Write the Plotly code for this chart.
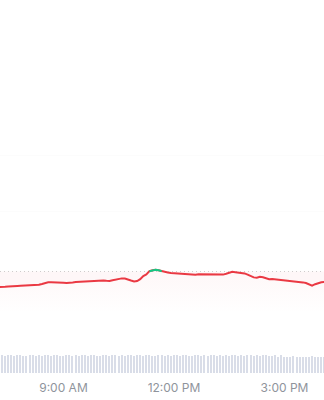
import plotly.graph_objects as go
import pandas as pd

# ---- data ----
start_time = "2024-03-15 07:15"
interval_min = 5
prev_close = 50.00

price = [
    49.446, 49.439, 49.454, 49.464, 49.461, 49.475, 49.482, 49.489, 49.493, 49.500,
    49.496, 49.507, 49.504, 49.525, 49.554, 49.589, 49.618, 49.614, 49.604, 49.611,
    49.607, 49.596, 49.593, 49.589, 49.611, 49.625, 49.632, 49.639, 49.646, 49.643,
    49.654, 49.661, 49.675, 49.682, 49.679, 49.668, 49.664, 49.689, 49.711, 49.732,
    49.754, 49.750, 49.725, 49.679, 49.646, 49.661, 49.725, 49.839, 49.893, 50.011,
    50.046, 50.061, 50.043, 50.011, 49.986, 49.964, 49.946, 49.939, 49.929, 49.918,
    49.904, 49.889, 49.882, 49.893, 49.886, 49.900, 49.896, 49.911, 49.904, 49.889,
    49.893, 49.882, 49.875, 49.889, 49.918, 49.961, 49.989, 49.975, 49.961, 49.954,
    49.932, 49.889, 49.839, 49.789, 49.775, 49.811, 49.796, 49.746, 49.725, 49.732,
    49.721, 49.714, 49.704, 49.696, 49.689, 49.675, 49.661, 49.643, 49.625, 49.611,
    49.589, 49.554, 49.496, 49.546, 49.589, 49.618, 49.621,
]

volume = [
    98, 100, 97, 99, 100, 96, 99, 100, 98, 97,
    100, 99, 98, 100, 97, 99, 100, 98, 99, 100,
    97, 98, 100, 99, 96, 100, 98, 99, 100, 97,
    99, 100, 98, 97, 100, 99, 98, 100, 99, 97,
    100, 98, 99, 100, 97, 99, 100, 98, 99, 100,
    98, 97, 100, 99, 98, 100, 97, 99, 100, 98,
    99, 100, 97, 98, 100, 99, 98, 100, 97, 99,
    100, 98, 99, 97, 100, 98, 99, 100, 97, 99,
    98, 100, 99, 97, 100, 98, 99, 100, 98, 97,
    100, 91, 99, 90, 92, 91, 98, 90, 91, 92,
    90, 91, 98, 90, 91, 92, 90,
]

tick_vals = ["2024-03-15 09:00", "2024-03-15 12:00", "2024-03-15 15:00"]
tick_text = ["9:00 AM", "12:00 PM", "3:00 PM"]
x_range = ["2024-03-15 07:16:36", "2024-03-15 16:04:24"]

times = pd.date_range(start_time, periods=len(price), freq=f"{interval_min}min")

RED = "#ea3943"
GREEN = "#16c784"

fig = go.Figure()

# baseline helper for fill
fig.add_trace(go.Scatter(x=times, y=[prev_close] * len(price), mode="lines",
                         line=dict(width=0), hoverinfo="skip", showlegend=False))
fig.add_trace(go.Scatter(x=times, y=price, mode="lines", line=dict(width=0),
                         fill="tonexty", fillcolor="rgba(234,57,67,0.04)",
                         hoverinfo="skip", showlegend=False))
# faint gradient below line
fig.add_trace(go.Scatter(x=times, y=[48.5] * len(price), mode="lines",
                         line=dict(width=0), hoverinfo="skip", showlegend=False))
fig.add_trace(go.Scatter(x=times, y=price, mode="lines", line=dict(width=0),
                         fill="tonexty",
                         fillgradient=dict(type="vertical",
                                           colorscale=[[0, "rgba(234,57,67,0)"],
                                                       [1, "rgba(234,57,67,0.04)"]]),
                         hoverinfo="skip", showlegend=False))

# main price line
fig.add_trace(go.Scatter(x=times, y=price, mode="lines",
                         line=dict(color=RED, width=2), showlegend=False))
green_y = [p if p >= prev_close else None for p in price]
fig.add_trace(go.Scatter(x=times, y=green_y, mode="lines",
                         line=dict(color=GREEN, width=2), showlegend=False))

# volume bars
fig.add_trace(go.Bar(x=times, y=volume, yaxis="y2",
                     marker=dict(color="#d9dde8", line=dict(width=0)),
                     width=interval_min * 60 * 1000 * 0.45, showlegend=False))

fig.add_shape(type="line", xref="paper", x0=0, x1=1, yref="y", y0=prev_close, y1=prev_close,
              line=dict(color="#d0d0d0", width=1, dash="1px,3px"), layer="below")

fig.update_layout(
    width=324, height=400,
    margin=dict(l=0, r=0, t=0, b=27),
    paper_bgcolor="white", plot_bgcolor="white",
    showlegend=False, hovermode=False,
    font=dict(family="Inter, Roboto, sans-serif", size=12, color="#8f949c"),
    xaxis=dict(type="date", range=x_range, tickvals=tick_vals, ticktext=tick_text,
               showgrid=False, zeroline=False, showline=False, ticks="",
               ticklabelstandoff=6, tickfont=dict(size=12, color="#8f949c")),
    yaxis=dict(range=[46.375, 59.696], showticklabels=False, zeroline=False,
               showgrid=True, gridcolor="#fcfcfc", gridwidth=1,
               tickvals=[52.125, 54.125]),
    yaxis2=dict(overlaying="y", range=[0, 2100], visible=False, showgrid=False),
    bargap=0,
)

fig.write_html("out.html")
